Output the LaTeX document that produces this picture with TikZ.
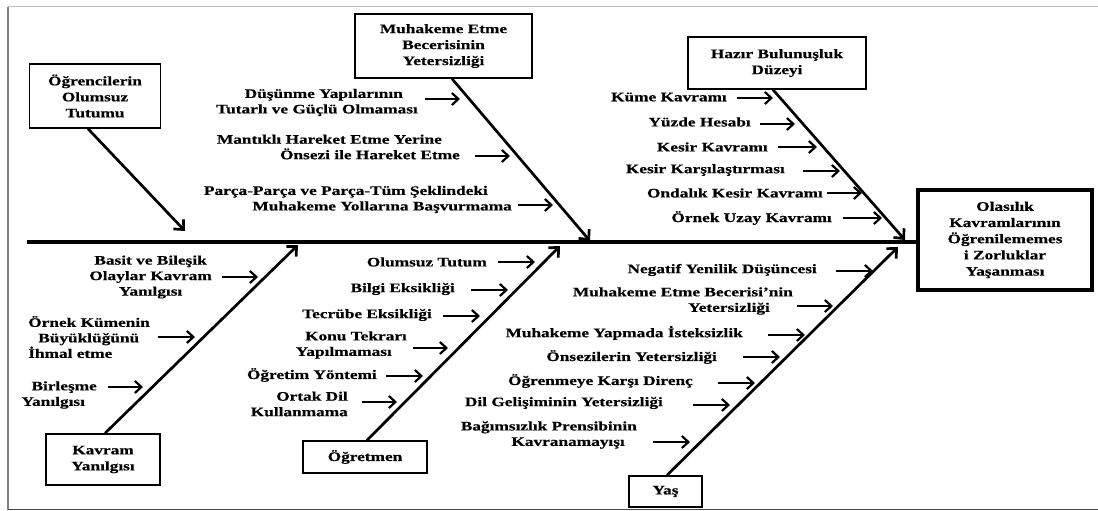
\documentclass[tikz,border=0pt]{standalone}
\usepackage{fontspec}
\setmainfont[FakeStretch=1.33, BoldFeatures={FakeBold=0.5}]{Liberation Serif}
\usetikzlibrary{arrows.meta}
\begin{document}
\begin{tikzpicture}[x=1pt,y=-1pt,
  every node/.style={font=\bfseries\fontsize{13}{15.5}\selectfont, inner sep=0pt},
  box/.style={draw, line width=1.5pt, align=center, font=\bfseries\fontsize{13}{16}\selectfont},
  effect/.style={draw, line width=3.8pt, align=center, font=\bfseries\fontsize{13}{16.2}\selectfont},
  cause/.style={anchor=east, align=right},
  causeleft/.style={anchor=east, align=left},
  causemid/.style={anchor=east, align=center},
  spine/.style={line width=3.2pt},
  branch/.style={line width=2.7pt, -{Straight Barb[length=7.5pt,width=14pt]}},
  sub/.style={line width=2.2pt, -{Straight Barb[length=6.5pt,width=12pt]}},
]
\useasboundingbox (0,0) rectangle (1098,511);
\fill[white] (0,0) rectangle (1098,511);

% outer frame of the figure
\draw[line width=1pt, black!25] (8,7) -- (1098,7);
\draw[line width=1.6pt, black!50] (8,7) -- (8,509.5);
\draw[line width=1.6pt, black!72] (8,509.5) -- (1098,509.5);

% effect (head of the fish)
\node[effect, minimum width=174pt, minimum height=100pt] (eff) at (1005,240)
  {Olasılık\\Kavramlarının\\Öğrenilememes\\i Zorluklar\\Yaşanması};

% spine
\coordinate (s0) at (27,242);
\draw[spine] (s0) -- (s0 -| eff.west);

% main cause boxes
\node[box, minimum width=131pt, minimum height=64pt] (b1) at (95,96) {Öğrencilerin\\Olumsuz\\Tutumu};
\node[box, minimum width=177pt, minimum height=64pt] (b2) at (443.5,46) {Muhakeme Etme\\Becerisinin\\Yetersizliği};
\node[box, minimum width=178pt, minimum height=52pt] (b3) at (777,63) {Hazır Bulunuşluk\\Düzeyi};
\node[box, minimum width=114pt, minimum height=51pt] (b4) at (103,459.5) {Kavram\\Yanılgısı};
\node[box, minimum width=124pt, minimum height=32pt] (b5) at (365,457) {Öğretmen};
\node[box, minimum width=73pt, minimum height=31pt] (b6) at (665.5,491.5) {Yaş};

% branch tips on the spine
\coordinate (t1) at (185,231);
\coordinate (t2) at (590,241);
\coordinate (t3) at (905,240);
\coordinate (t4) at (298,245);
\coordinate (t5) at (560,246);
\coordinate (t6) at (898,247);

% branches
\draw[branch] ([xshift=-7pt]b1.south) -- (t1);
\draw[branch] ([xshift=8.5pt]b2.south) -- (t2);
\draw[branch] ([xshift=-4pt]b3.south) -- (t3);
\draw[branch] ([xshift=2pt]b4.north) -- (t4);
\draw[branch] ([xshift=2pt]b5.north) -- (t5);
\draw[branch] ([xshift=1.5pt]b6.north) -- (t6);

% sub-causes: reasoning skill
\node[cause] (c1) at (418,102.5) {Düşünme Yapılarının\rule{15pt}{0pt}\\Tutarlı ve Güçlü Olmaması};
\node[cause] (c2) at (460,147) {Mantıklı Hareket Etme Yerine\rule{18pt}{0pt}\\Önsezi ile Hareket Etme};
\node[cause] (c3) at (512,199.5) {Parça-Parça ve Parça-Tüm Şeklindeki\rule{24pt}{0pt}\\Muhakeme Yollarına Başvurmama};
\draw[sub] (c1.east) ++(7,-3.5) -- ++(35,0);
\draw[sub] (c2.east) ++(15,9) -- ++(35,0);
\draw[sub] (c3.east) ++(6,5.5) -- ++(35,0);

% sub-causes: readiness level
\node[cause] (d1) at (727,97) {Küme Kavramı};
\node[cause] (d2) at (751,122) {Yüzde Hesabı};
\node[cause] (d3) at (768,147) {Kesir Kavramı};
\node[cause] (d4) at (785,170) {Kesir Karşılaştırması};
\node[cause] (d5) at (823,193) {Ondalık Kesir Kavramı};
\node[cause] (d6) at (832,218) {Örnek Uzay Kavramı};
\draw[sub] (d1.east) ++(10,1) -- ++(36,0);
\draw[sub] (d2.east) ++(9,2) -- ++(35,0);
\draw[sub] (d3.east) ++(10,0) -- ++(39,0);
\draw[sub] (d4.east) ++(18,1) -- ++(37,0);
\draw[sub] (d5.east) ++(4,0) -- ++(35,0);
\draw[sub] (d6.east) ++(11,0) -- ++(39,0);

% sub-causes: misconceptions
\node[causemid] (k1) at (212,277) {Basit ve Bileşik\\Olaylar Kavram\\Yanılgısı};
\node[causeleft] (k2) at (150,337) {Örnek Kümenin\\\hspace*{10pt}Büyüklüğünü\\İhmal etme};
\node[causeleft] (k3) at (97,395) {\hspace*{10pt}Birleşme\\Yanılgısı};
\draw[sub] (k1.east) ++(10,0) -- ++(36,0);
\draw[sub] (k2.east) ++(8,0) -- ++(37,0);
\draw[sub] (k3.east) ++(11,-8) -- ++(35,0);

% sub-causes: teacher
\node[cause] (o1) at (487,262) {Olumsuz Tutum};
\node[cause] (o2) at (455,289) {Bilgi Eksikliği};
\node[cause] (o3) at (432,315) {Tecrübe Eksikliği};
\node[cause] (o4) at (407,345) {Konu Tekrarı\\Yapılmaması\rule{15pt}{0pt}};
\node[cause] (o5) at (377,375) {Öğretim Yöntemi};
\node[cause] (o6) at (348,404) {Ortak Dil\\Kullanmama};
\draw[sub] (o1.east) ++(11,0) -- ++(37,0);
\draw[sub] (o2.east) ++(16,1) -- ++(37,0);
\draw[sub] (o3.east) ++(11,1) -- ++(37,0);
\draw[sub] (o4.east) ++(6,3) -- ++(35,0);
\draw[sub] (o5.east) ++(9,1) -- ++(37,0);
\draw[sub] (o6.east) ++(14,-2) -- ++(35,0);

% sub-causes: age
\node[cause] (y1) at (817,270) {Negatif Yenilik Düşüncesi};
\node[cause] (y2) at (793,301) {Muhakeme Etme Becerisi’nin\\Yetersizliği\rule{23pt}{0pt}};
\node[cause] (y3) at (743,333) {Muhakeme Yapmada İsteksizlik};
\node[cause] (y4) at (717,357) {Önsezilerin Yetersizliği};
\node[cause] (y5) at (693,381) {Öğrenmeye Karşı Direnç};
\node[cause] (y6) at (663,403) {Dil Gelişiminin Yetersizliği};
\node[cause] (y7) at (637,435) {Bağımsızlık Prensibinin\\Kavranamayışı\rule{12pt}{0pt}};
\draw[sub] (y1.east) ++(19,1) -- ++(37,0);
\draw[sub] (y2.east) ++(4,5) -- ++(36,0);
\draw[sub] (y3.east) ++(25,2) -- ++(37,0);
\draw[sub] (y4.east) ++(26,0) -- ++(37,0);
\draw[sub] (y5.east) ++(25,2) -- ++(37,0);
\draw[sub] (y6.east) ++(30,2) -- ++(37,0);
\draw[sub] (y7.east) ++(16,7) -- ++(37,0);
\end{tikzpicture}
\end{document}
